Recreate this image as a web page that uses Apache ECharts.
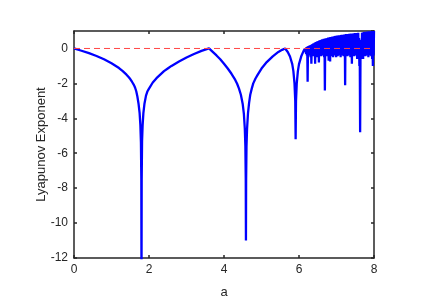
<!DOCTYPE html>
<html>
<head>
<meta charset="utf-8">
<script src="https://cdn.jsdelivr.net/npm/echarts@6/dist/echarts.min.js"></script>
<style>
  html, body { margin: 0; padding: 0; background: #fff; }
  #chart { width: 436px; height: 308px; }
</style>
</head>
<body>
<div id="chart"></div>
<script>
"use strict";

// smooth (periodic) part of the sweep: [a, exponent]
const periodicPart = [
  [0, 0], [0.2, -0.13], [0.4, -0.27], [0.6, -0.43], [0.8, -0.62], [1.0, -0.85],
  [1.2, -1.12], [1.3, -1.3], [1.4, -1.5], [1.45, -1.62], [1.5, -1.75], [1.55, -1.92],
  [1.6, -2.1], [1.63, -2.25], [1.66, -2.45], [1.69, -2.75], [1.72, -3.15], [1.75, -3.7],
  [1.77, -4.4], [1.785, -5.4], [1.795, -7.5], [1.8, -14], [1.805, -7.5], [1.815, -5.3],
  [1.83, -4.4], [1.85, -3.7], [1.88, -3.15], [1.92, -2.7], [1.96, -2.45], [2.0, -2.3],
  [2.1, -1.95], [2.2, -1.7], [2.3, -1.5], [2.4, -1.3], [2.5, -1.15], [2.6, -1.0],
  [2.8, -0.75], [3.0, -0.52], [3.2, -0.32], [3.4, -0.14], [3.6, 0],
  [3.7, -0.2], [3.8, -0.4], [3.9, -0.62], [4.0, -0.88], [4.1, -1.15], [4.2, -1.45],
  [4.3, -1.8], [4.35, -2.02], [4.4, -2.3], [4.45, -2.65], [4.5, -3.2], [4.53, -3.75],
  [4.555, -4.6], [4.57, -5.6], [4.58, -7.5], [4.585, -11], [4.59, -7.5], [4.6, -5.6],
  [4.615, -4.6], [4.64, -3.7], [4.67, -3.1], [4.7, -2.65], [4.74, -2.3], [4.78, -2.0],
  [4.84, -1.72], [4.9, -1.5], [5.0, -1.15], [5.14, -0.78], [5.3, -0.45], [5.45, -0.2],
  [5.55, -0.08], [5.63, 0],
  [5.7, -0.2], [5.76, -0.46], [5.82, -0.9], [5.85, -1.3], [5.88, -2.0], [5.9, -3.0],
  [5.91, -5.2], [5.92, -3.0], [5.94, -2.0], [5.97, -1.3], [6.0, -0.9], [6.06, -0.45],
  [6.12, -0.15]
];

// chaotic part: sampled every 0.02 from 6.16, tops and bottoms of the band
const chaosStart = 6.16;
const chaosStep = 0.02;
const chaosHigh = [
  0.0, 0.05, 0.08, 0.1, 0.12, 0.14, 0.16, 0.18, 0.2, 0.22,
  0.25, 0.28, 0.3, 0.33, 0.35, 0.37, 0.39, 0.41, 0.43, 0.45,
  0.47, 0.48, 0.5, 0.52, 0.53, 0.55, 0.56, 0.57, 0.58, 0.59,
  0.6, 0.62, 0.63, 0.64, 0.65, 0.66, 0.67, 0.68, 0.69, 0.7,
  0.71, 0.72, 0.73, 0.74, 0.74, 0.75, 0.76, 0.76, 0.77, 0.78,
  0.78, 0.79, 0.8, 0.8, 0.81, 0.82, 0.82, 0.83, 0.83, 0.84,
  0.84, 0.85, 0.85, 0.86, 0.86, 0.87, 0.87, 0.88, 0.88, 0.89,
  0.89, 0.9, 0.6, -0.3, -0.2, 0.5, 0.9, 0.92, 0.93, 0.94,
  0.95, 0.95, 0.96, 0.97, 0.97, 0.98, 0.98, 0.99, 0.99, 1.0,
  0.6, 1.0, 1.0
];
const chaosLow = [
  -0.1, -0.3, -0.4, -1.9, -0.35, -0.4, -0.3, -0.5, -0.87, -0.4,
  -0.35, -0.45, -0.3, -0.87, -0.4, -0.35, -0.5, -0.3, -0.8, -0.4,
  -0.3, -0.45, -0.35, -0.4, -0.3, -0.5, -2.4, -0.4, -0.35, -0.45,
  -0.3, -0.7, -0.35, -0.75, -0.4, -0.3, -0.45, -0.5, -0.3, -0.35,
  -0.4, -0.5, -0.3, -0.45, -0.35, -0.4, -0.3, -0.5, -0.35, -0.4,
  -0.3, -0.45, -0.35, -2.1, -0.4, -0.3, -0.45, -0.35, -0.4, -0.3,
  -0.5, -0.35, -0.87, -0.4, -0.3, -0.45, -0.35, -0.4, -0.3, -0.6,
  -0.35, -0.4, -1.0, -4.8, -0.6, -0.4, -0.35, -0.6, -0.4, -0.3,
  -0.45, -0.35, -0.4, -0.3, -0.5, -0.35, -0.4, -0.3, -0.45, -0.6,
  -1.0, -0.4
];

const xTicks = [0, 2, 4, 6, 8];
const yTicks = [-12, -10, -8, -6, -4, -2, 0];

const curve = periodicPart.slice();
chaosHigh.forEach((v, i) => {
  const a = chaosStart + i * chaosStep;
  curve.push([a, v]);
  if (i < chaosLow.length) curve.push([a + chaosStep / 2, chaosLow[i]]);
});

const ink = "#262626";
const font = "'Liberation Sans', Arial, sans-serif";

const frameX = (pos, labels) => ({
  type: "value", position: pos,
  min: xTicks[0], max: xTicks[xTicks.length - 1], interval: 2,
  axisLine: { show: true, onZero: false, lineStyle: { color: ink, width: 1.5 } },
  axisTick: { show: true, inside: true, length: 3, lineStyle: { color: ink, width: 1.5 } },
  axisLabel: { show: labels, color: ink, fontSize: 12, fontFamily: font, margin: 6 },
  splitLine: { show: false },
});
const frameY = (pos, labels) => ({
  type: "value", position: pos,
  min: yTicks[0], max: 1, interval: 2,
  axisLine: { show: true, onZero: false, lineStyle: { color: ink, width: 1.5 } },
  axisTick: { show: true, inside: true, length: 3, lineStyle: { color: ink, width: 1.5 } },
  axisLabel: { show: labels, color: ink, fontSize: 12, fontFamily: font, margin: 6, showMaxLabel: false },
  splitLine: { show: false },
});

const chart = echarts.init(document.getElementById("chart"), null, { width: 436, height: 308 });
const xBottom = frameX("bottom", true);
xBottom.name = "a";
xBottom.nameLocation = "middle";
xBottom.nameGap = 28;
xBottom.nameMoveOverlap = false;
xBottom.nameTextStyle = { color: ink, fontSize: 13, fontFamily: font };
const yLeft = frameY("left", true);
yLeft.name = "Lyapunov Exponent";
yLeft.nameLocation = "middle";
yLeft.nameGap = 26;
yLeft.nameMoveOverlap = false;
yLeft.nameTextStyle = { color: ink, fontSize: 13, fontFamily: font };

chart.setOption({
  animation: false,
  backgroundColor: "#fff",
  grid: { left: 74, right: 62, top: 31, bottom: 50, containLabel: false },
  xAxis: [xBottom, frameX("top", false)],
  yAxis: [yLeft, frameY("right", false)],
  series: [
    {
      type: "line", data: curve, xAxisIndex: 0, yAxisIndex: 0,
      showSymbol: false, clip: true, z: 2,
      lineStyle: { color: "#0000ff", width: 2.3 },
    },
    {
      type: "line", data: [[0, 0], [8, 0]], xAxisIndex: 0, yAxisIndex: 0,
      showSymbol: false, z: 3,
      lineStyle: { color: "#ff4444", width: 1, type: [6, 4] },
    },
  ],
});
</script>
</body>
</html>
